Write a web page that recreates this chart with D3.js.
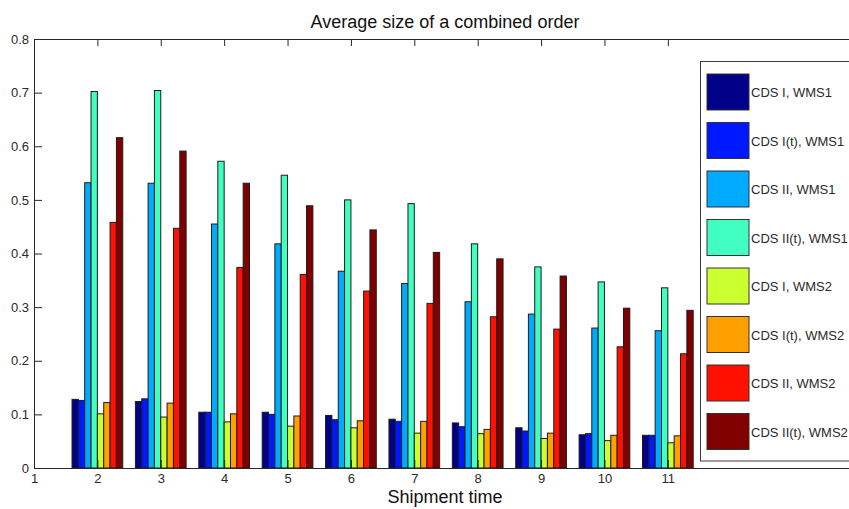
<!DOCTYPE html>
<html>
<head>
<meta charset="utf-8">
<script src="https://cdn.jsdelivr.net/npm/d3@7"></script>
<style>
  html, body { margin: 0; padding: 0; background: #fff; overflow: hidden; }
  svg { display: block; font-family: "Liberation Sans", Arial, Helvetica, sans-serif; }
</style>
</head>
<body>
<div id="plot"></div>
<script>
// values
const shipmentTimes = [2, 3, 4, 5, 6, 7, 8, 9, 10, 11];
const xTicks = [1, 2, 3, 4, 5, 6, 7, 8, 9, 10, 11];
const yTicks = [0, 0.1, 0.2, 0.3, 0.4, 0.5, 0.6, 0.7, 0.8];

const seriesNames = [
    'CDS I, WMS1', 'CDS I(t), WMS1', 'CDS II, WMS1', 'CDS II(t), WMS1',
    'CDS I, WMS2', 'CDS I(t), WMS2', 'CDS II, WMS2', 'CDS II(t), WMS2'
];

const cdsI_wms1   = [0.128, 0.124, 0.104, 0.104, 0.098, 0.091, 0.084, 0.075, 0.062, 0.061];
const cdsIt_wms1  = [0.126, 0.129, 0.104, 0.100, 0.090, 0.087, 0.077, 0.069, 0.064, 0.061];
const cdsII_wms1  = [0.532, 0.531, 0.455, 0.418, 0.367, 0.344, 0.310, 0.287, 0.261, 0.256];
const cdsIIt_wms1 = [0.702, 0.704, 0.572, 0.546, 0.500, 0.493, 0.418, 0.375, 0.347, 0.336];
const cdsI_wms2   = [0.101, 0.095, 0.086, 0.078, 0.075, 0.065, 0.064, 0.055, 0.051, 0.047];
const cdsIt_wms2  = [0.122, 0.121, 0.101, 0.097, 0.088, 0.087, 0.072, 0.065, 0.061, 0.060];
const cdsII_wms2  = [0.458, 0.447, 0.374, 0.361, 0.330, 0.307, 0.282, 0.259, 0.226, 0.213];
const cdsIIt_wms2 = [0.616, 0.591, 0.531, 0.489, 0.444, 0.402, 0.390, 0.358, 0.298, 0.294];

const seriesValues = [cdsI_wms1, cdsIt_wms1, cdsII_wms1, cdsIIt_wms1,
                      cdsI_wms2, cdsIt_wms2, cdsII_wms2, cdsIIt_wms2];

const colors = ['#000088', '#0018ff', '#00aaff', '#40ffc0',
                '#ccff30', '#ffa000', '#ff1000', '#800000'];

const width = 849;
const height = 509;
const axisColor = '#262626';

const svg = d3.select('#plot').append('svg')
    .attr('width', width)
    .attr('height', height);

// axes box runs past the right edge of the picture
const x = d3.scaleLinear().domain([1, 14]).range([34, 858]);
const y = d3.scaleLinear().domain([0, 0.8]).range([468, 39]);
const inner = d3.scaleBand().domain(seriesNames).range([-0.4, 0.4]);

const rows = [];
seriesNames.forEach((name, i) => {
    seriesValues[i].forEach((v, j) => {
        rows.push({name, i, time: shipmentTimes[j], value: v});
    });
});

svg.append('g').selectAll('rect')
    .data(rows)
    .join('rect')
    .attr('x', d => x(d.time + inner(d.name)))
    .attr('y', d => y(d.value))
    .attr('width', d => x(d.time + inner(d.name) + inner.bandwidth()) - x(d.time + inner(d.name)))
    .attr('height', d => y(0) - y(d.value))
    .attr('fill', d => colors[d.i])
    .attr('stroke', '#1c1c1c')
    .attr('stroke-width', 1);

// axes, drawn over the bars with ticks pointing inward
const fmt = d => d === 0 ? '0' : d3.format('.1f')(d);

const xAxis = svg.append('g')
    .attr('transform', `translate(0,${y(0)})`)
    .call(d3.axisBottom(x).tickValues(xTicks).tickSizeInner(-8).tickSizeOuter(0).tickPadding(6));

const xTop = svg.append('g')
    .attr('transform', `translate(0,${y(0.8)})`)
    .call(d3.axisTop(x).tickValues(xTicks).tickSizeInner(-7).tickSizeOuter(0).tickFormat(''));

const yAxis = svg.append('g')
    .attr('transform', `translate(${x(1)},0)`)
    .call(d3.axisLeft(y).tickValues(yTicks).tickSizeInner(-8).tickSizeOuter(0).tickPadding(5).tickFormat(fmt));

[xAxis, xTop, yAxis].forEach(g => {
    g.selectAll('path.domain').attr('stroke', axisColor);
    g.selectAll('.tick line').attr('stroke', axisColor);
    g.selectAll('.tick text')
        .attr('fill', '#2a2a2a')
        .attr('font-size', '13px')
        .attr('font-family', '"Liberation Sans", Arial, sans-serif');
});

// legend
const legend = svg.append('g');
legend.append('rect')
    .attr('x', 700.5)
    .attr('y', 61.5)
    .attr('width', 170)
    .attr('height', 399.5)
    .attr('fill', '#fff')
    .attr('stroke', '#3a3a3a');

const item = legend.selectAll('g.item')
    .data(seriesNames)
    .join('g')
    .attr('class', 'item')
    .attr('transform', (d, i) => `translate(707,${74 + i * 48.5})`);

item.append('rect')
    .attr('width', 42)
    .attr('height', 36)
    .attr('fill', (d, i) => colors[i])
    .attr('stroke', '#333');

item.append('text')
    .attr('x', 44)
    .attr('y', 23)
    .attr('font-size', '13px')
    .attr('fill', '#2a2a2a')
    .text(d => d);

// titles
svg.append('text')
    .attr('x', 445)
    .attr('y', 28)
    .attr('text-anchor', 'middle')
    .attr('font-size', '18px')
    .attr('fill', '#111')
    .text('Average size of a combined order');

svg.append('text')
    .attr('x', 445)
    .attr('y', 503)
    .attr('text-anchor', 'middle')
    .attr('font-size', '18px')
    .attr('fill', '#111')
    .text('Shipment time');
</script>
</body>
</html>
